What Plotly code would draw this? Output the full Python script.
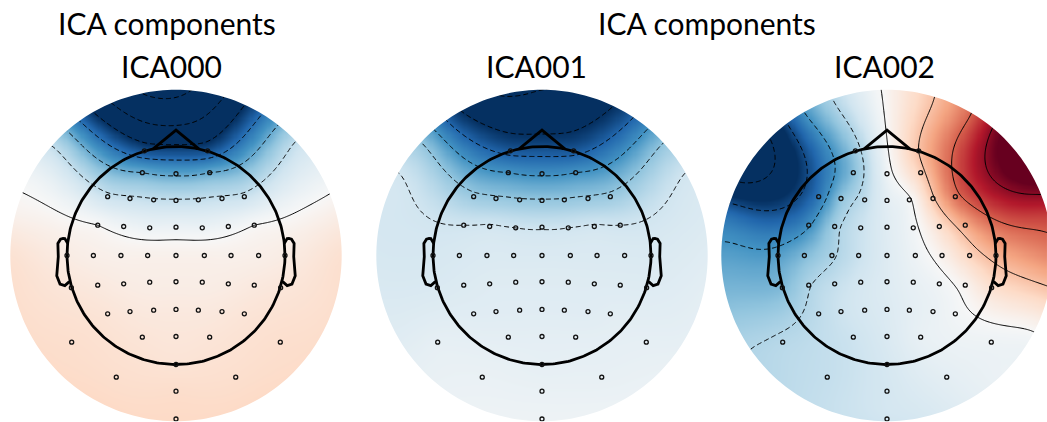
import numpy as np
import plotly.graph_objects as go

# ---------------------------------------------------------------
# Sensor layout, in head-radius units (head circle has radius 1)
# ---------------------------------------------------------------
sensor_x = [
    -0.29, 0.29,                                            # Fp
    -0.309, 0.0, 0.309,                                     # AF
    -0.627, -0.422, -0.205, 0.0, 0.205, 0.422, 0.627,       # F
    -0.718, -0.48, -0.241, 0.0, 0.241, 0.48, 0.718,         # FC
    -1.0, -0.758, -0.505, -0.26, 0.0, 0.26, 0.505, 0.758, 1.0,  # C
    -0.96, 0.96,                                            # TP
    -0.718, -0.48, -0.241, 0.0, 0.241, 0.48, 0.718,         # CP
    -0.627, -0.422, -0.205, 0.0, 0.205, 0.422, 0.627,       # P
    -0.309, 0.0, 0.309,                                     # PO
    -0.957, 0.957,
    0.0,
    -0.548, 0.548,
    0.0,
    0.0,
]
sensor_y = [
    0.96, 0.96,
    0.76, 0.75, 0.76,
    0.54, 0.523, 0.511, 0.505, 0.511, 0.523, 0.54,
    0.278, 0.266, 0.254, 0.26, 0.254, 0.266, 0.278,
    0.0, 0.0, 0.0, 0.0, 0.0, 0.0, 0.0, 0.0, 0.0,
    -0.295, -0.295,
    -0.272, -0.26, -0.245, -0.241, -0.245, -0.26, -0.272,
    -0.535, -0.514, -0.502, -0.495, -0.502, -0.514, -0.535,
    -0.749, -0.743, -0.749,
    -0.795, -0.795,
    -1.0,
    -1.116, -1.116,
    -1.245,
    -1.5,
]

# ---------------------------------------------------------------
# Component weights at each sensor (colour limits are +/-1)
# ---------------------------------------------------------------
ica000 = [
    -0.88, -0.88,
    -0.5, -0.53, -0.5,
    -0.22, -0.23, -0.24, -0.24, -0.24, -0.23, -0.22,
    0.0, -0.04, -0.06, -0.06, -0.06, -0.04, 0.0,
    0.08, 0.06, 0.05, 0.05, 0.05, 0.05, 0.05, 0.06, 0.08,
    0.12, 0.12,
    0.1, 0.08, 0.07, 0.07, 0.07, 0.08, 0.1,
    0.13, 0.11, 0.1, 0.1, 0.1, 0.11, 0.13,
    0.13, 0.12, 0.13,
    0.17, 0.17,
    0.14,
    0.17, 0.17,
    0.18,
    0.2,
]
ica001 = [
    -0.85, -0.85,
    -0.6, -0.62, -0.6,
    -0.37, -0.38, -0.39, -0.39, -0.39, -0.38, -0.37,
    -0.2, -0.19, -0.2, -0.21, -0.2, -0.19, -0.2,
    -0.17, -0.16, -0.15, -0.15, -0.15, -0.15, -0.15, -0.15, -0.15,
    -0.15, -0.13,
    -0.14, -0.13, -0.13, -0.13, -0.13, -0.13, -0.13,
    -0.12, -0.12, -0.12, -0.12, -0.12, -0.12, -0.11,
    -0.1, -0.1, -0.1,
    -0.09, -0.09,
    -0.09,
    -0.07, -0.08,
    -0.07,
    -0.05,
]
ica002 = [
    -0.36, 0.3,
    -0.42, -0.05, 0.25,
    -0.72, -0.4, -0.25, -0.1, -0.02, 0.28, 0.55,
    -0.62, -0.34, -0.22, -0.12, -0.03, 0.16, 0.38,
    -0.55, -0.44, -0.32, -0.22, -0.13, -0.05, 0.05, 0.22, 0.35,
    -0.44, 0.16,
    -0.31, -0.24, -0.18, -0.13, -0.08, -0.04, 0.04,
    -0.26, -0.21, -0.17, -0.14, -0.1, -0.07, -0.03,
    -0.21, -0.15, -0.08,
    -0.28, -0.05,
    -0.17,
    -0.24, -0.1,
    -0.18,
    -0.19,
]

# Field values on the outer rim, every 15 degrees counter-clockwise from +x
rim_ica000 = [0.16, 0.06, -0.08, -0.28, -0.8, -1.3, -1.55, -1.45, -1.0, -0.35, -0.06, 0.04,
              0.15, 0.17, 0.18, 0.19, 0.2, 0.2, 0.2, 0.2, 0.2, 0.19, 0.18, 0.17]
rim_ica001 = [-0.12, -0.15, -0.2, -0.45, -0.9, -1.15, -1.2, -1.2, -0.98, -0.45, -0.2, -0.18,
              -0.17, -0.15, -0.12, -0.08, -0.06, -0.05, -0.05, -0.05, -0.06, -0.07, -0.09, -0.1]
rim_ica002 = [0.5, 0.72, 1.1, 1.05, 0.58, 0.27, 0.03, -0.21, -0.6, -1.2, -1.3, -0.78,
              -0.55, -0.44, -0.32, -0.28, -0.25, -0.22, -0.2, -0.16, -0.1, -0.06, -0.03, 0.22]

component_names = ["ICA000", "ICA001", "ICA002"]
suptitle_text = ["ICA components", "ICA components"]

# ---------------------------------------------------------------
# Styling / geometry
# ---------------------------------------------------------------
W, H = 1047, 422
PX_PER_UNIT = 109.0
CENTERS_PX = [176, 542, 887]
CY_PX = 255.5
RIM_R = 1.52
HALF = 1.56
CONTOUR_STEP = [0.25, 0.2, 0.3]
FONT = "Lato, 'Open Sans', sans-serif"

RDBU_R = ["#053061", "#2166ac", "#4393c3", "#92c5de", "#d1e5f0", "#f7f7f7",
          "#fddbc7", "#f4a582", "#d6604d", "#b2182b", "#67001f"]
colorscale = [[i / 10, c] for i, c in enumerate(RDBU_R)]


def tps_surface(xs, ys, vs, gx, gy, smooth=1e-3):
    """Thin-plate spline through scattered values, evaluated on a grid."""
    xs, ys, vs = np.asarray(xs, float), np.asarray(ys, float), np.asarray(vs, float)
    n = len(xs)

    def kern(r):
        with np.errstate(divide="ignore", invalid="ignore"):
            k = r ** 2 * np.log(r)
        return np.nan_to_num(k)

    d = np.hypot(xs[:, None] - xs[None, :], ys[:, None] - ys[None, :])
    A = np.zeros((n + 3, n + 3))
    A[:n, :n] = kern(d) + smooth * np.eye(n)
    P = np.column_stack([np.ones(n), xs, ys])
    A[:n, n:] = P
    A[n:, :n] = P.T
    coef = np.linalg.solve(A, np.concatenate([vs, np.zeros(3)]))
    w, a = coef[:n], coef[n:]
    GX, GY = np.meshgrid(gx, gy)
    dg = np.hypot(GX[..., None] - xs, GY[..., None] - ys)
    return kern(dg) @ w + a[0] + a[1] * GX + a[2] * GY


# Head outline pieces (nose and ear shapes follow the usual EEG topomap outline)
t = np.linspace(0, 2 * np.pi, 361)
head_x, head_y = np.cos(t), np.sin(t)
nose_ang = np.arccos(np.deg2rad(12))
nose_x = [-np.cos(nose_ang), 0.0, np.cos(nose_ang)]
nose_y = [np.sin(nose_ang), 1.15, np.sin(nose_ang)]
ear_x = np.array([.497, .510, .518, .5299, .5419, .54, .547, .532, .510, .489]) * 2
ear_y = np.array([.0555, .0775, .0783, .0746, .0555, -.0055, -.0932, -.1313, -.1384, -.1199]) * 2

rim_angles = np.deg2rad(np.arange(0, 360, 15))
rim_x = RIM_R * np.cos(rim_angles)
rim_y = RIM_R * np.sin(rim_angles)

grid = np.linspace(-HALF, HALF, 321)

# white mask: square with a circular hole, clips the map to the rim
circ = np.linspace(0, 2 * np.pi, 241)
hole = " ".join(
    ("M" if i == 0 else "L") + f"{RIM_R * np.cos(a):.4f},{RIM_R * np.sin(a):.4f}"
    for i, a in enumerate(circ)
)
mask_path = (f"M{-HALF - 0.1},{-HALF - 0.1} L{HALF + 0.1},{-HALF - 0.1} "
             f"L{HALF + 0.1},{HALF + 0.1} L{-HALF - 0.1},{HALF + 0.1} Z {hole} Z")

fig = go.Figure()
layout_axes = {}
shapes = []

components = [(ica000, rim_ica000), (ica001, rim_ica001), (ica002, rim_ica002)]
for i, ((vals, rim_vals), step) in enumerate(zip(components, CONTOUR_STEP)):
    xa = "x" if i == 0 else f"x{i + 1}"
    ya = "y" if i == 0 else f"y{i + 1}"
    cx = CENTERS_PX[i]

    left_px, right_px = cx - HALF * PX_PER_UNIT, cx + HALF * PX_PER_UNIT
    x_lo = -HALF if left_px >= 0 else -cx / PX_PER_UNIT
    x_hi = HALF if right_px <= W else (W - cx) / PX_PER_UNIT
    dom = [max(left_px, 0) / W, min(right_px, W) / W]
    y_lo = -(H - CY_PX) / PX_PER_UNIT
    y_hi = CY_PX / PX_PER_UNIT

    layout_axes["xaxis" if i == 0 else f"xaxis{i + 1}"] = dict(
        domain=dom, range=[x_lo, x_hi], visible=False, fixedrange=True,
        anchor=ya)
    layout_axes["yaxis" if i == 0 else f"yaxis{i + 1}"] = dict(
        domain=[0, 1], range=[y_lo, y_hi], visible=False, fixedrange=True,
        anchor=xa)

    px = list(sensor_x) + list(rim_x)
    py = list(sensor_y) + list(rim_y)
    pv = list(vals) + list(rim_vals)
    Z = tps_surface(px, py, pv, grid, grid)

    fig.add_trace(go.Heatmap(
        x=grid, y=grid, z=Z, colorscale=colorscale, zmin=-1, zmax=1,
        zsmooth="best", showscale=False, hoverinfo="skip", xaxis=xa, yaxis=ya))

    # negative levels dashed, zero and positive levels solid
    fig.add_trace(go.Contour(
        x=grid, y=grid, z=Z, autocontour=False,
        contours=dict(coloring="none", start=-8 * step, end=-0.5 * step, size=step),
        line=dict(color="black", width=1, dash="5px,3px"),
        showscale=False, hoverinfo="skip", xaxis=xa, yaxis=ya))
    fig.add_trace(go.Contour(
        x=grid, y=grid, z=Z, autocontour=False,
        contours=dict(coloring="none", start=0.0, end=8 * step, size=step),
        line=dict(color="black", width=1),
        showscale=False, hoverinfo="skip", xaxis=xa, yaxis=ya))

    shapes.append(dict(type="path", path=mask_path, xref=xa, yref=ya,
                       fillcolor="white", line=dict(width=0), layer="above",
                       fillrule="evenodd"))

    # head, nose and ears
    outline_x = list(head_x) + [None] + nose_x + [None] + list(ear_x) + [None] + list(-ear_x)
    outline_y = list(head_y) + [None] + nose_y + [None] + list(ear_y) + [None] + list(ear_y)
    fig.add_trace(go.Scatter(
        x=outline_x, y=outline_y, mode="lines",
        line=dict(color="black", width=2.8), hoverinfo="skip",
        xaxis=xa, yaxis=ya))

    fig.add_trace(go.Scatter(
        x=sensor_x, y=sensor_y, mode="markers",
        marker=dict(symbol="circle-open", size=4, color="#111111", line=dict(width=1.3)),
        hoverinfo="skip", xaxis=xa, yaxis=ya))

annotations = []
for text, xpx in zip(suptitle_text, [167, 707]):
    annotations.append(dict(text=text, x=xpx / W, y=1 - 23 / H, xref="paper", yref="paper",
                            xanchor="center", yanchor="middle", showarrow=False,
                            font=dict(family=FONT, size=30, color="black")))
for text, xpx in zip(component_names, [172, 536, 884]):
    annotations.append(dict(text=text, x=xpx / W, y=1 - 66 / H, xref="paper", yref="paper",
                            xanchor="center", yanchor="middle", showarrow=False,
                            font=dict(family=FONT, size=30, color="black")))

fig.update_layout(
    width=W, height=H, autosize=False,
    margin=dict(l=0, r=0, t=0, b=0),
    paper_bgcolor="white", plot_bgcolor="white",
    showlegend=False, shapes=shapes, annotations=annotations,
    **layout_axes)

fig.write_html("out.html")
